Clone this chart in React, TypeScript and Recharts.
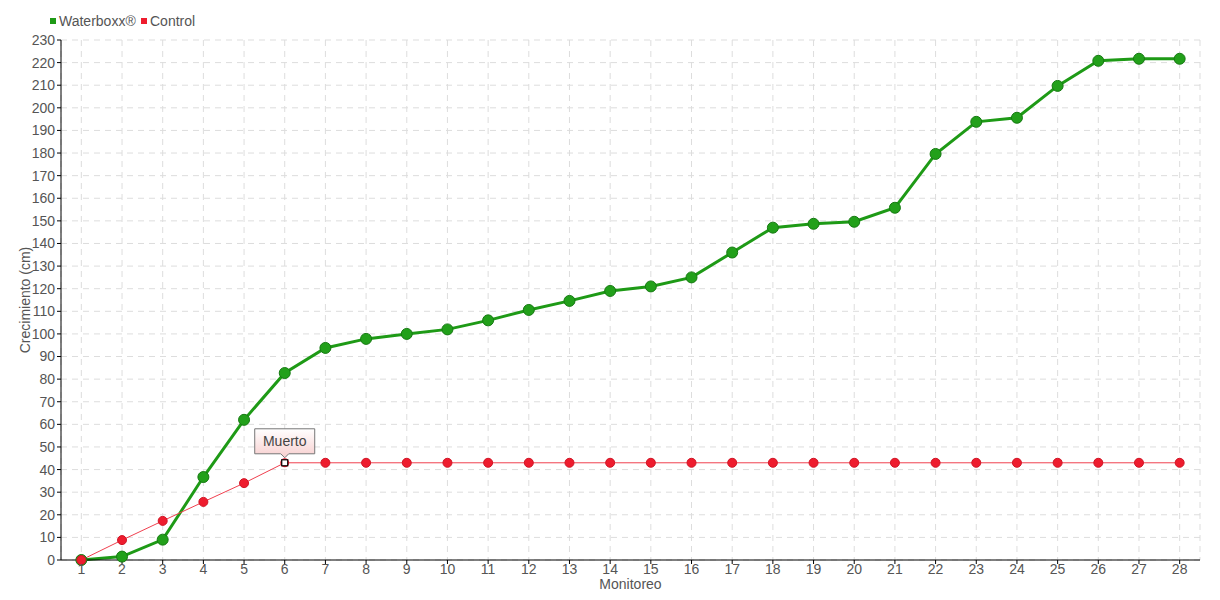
import React from "react";
import {
  LineChart,
  Line,
  XAxis,
  YAxis,
  CartesianGrid,
  Customized,
} from "recharts";

const monitoreos = [
  "1", "2", "3", "4", "5", "6", "7", "8", "9", "10", "11", "12", "13", "14",
  "15", "16", "17", "18", "19", "20", "21", "22", "23", "24", "25", "26", "27", "28",
];

const waterboxx = [
  0, 1.5, 9, 36.7, 62, 82.7, 93.8, 97.8, 100, 102, 106, 110.6, 114.6, 119,
  121, 125, 136, 147, 148.7, 149.6, 155.8, 179.6, 193.8, 195.6, 209.7, 220.8, 221.7, 221.7,
];

const control = [
  0, 8.8, 17.3, 25.7, 34, 43, 43, 43, 43, 43, 43, 43, 43, 43,
  43, 43, 43, 43, 43, 43, 43, 43, 43, 43, 43, 43, 43, 43,
];

const yTicks = [
  0, 10, 20, 30, 40, 50, 60, 70, 80, 90, 100, 110, 120, 130, 140, 150, 160,
  170, 180, 190, 200, 210, 220, 230,
];

// index of the control point marked as dead
const muertoIndex = 5;

const FONT = "'Liberation Sans', Arial, sans-serif";
const TEXT = "#555555";
const GREEN = "#1e9a16";
const RED = "#ee1c2e";

const data = monitoreos.map((m, i) => ({
  name: m,
  waterboxx: waterboxx[i],
  control: control[i],
}));

function ControlDot(props: any) {
  const { cx, cy, index } = props;
  if (cx == null || cy == null) return null;
  if (index !== muertoIndex) {
    return <circle key={index} cx={cx} cy={cy} r={4.5} fill={RED} stroke="#d01525" strokeWidth={1} />;
  }
  const bw = 60;
  const bh = 25;
  const bx = cx - bw / 2;
  const by = cy - 34;
  return (
    <g key={index}>
      <defs>
        <linearGradient id="muertoGrad" x1="0" y1="0" x2="0" y2="1">
          <stop offset="0%" stopColor="#ffffff" />
          <stop offset="100%" stopColor="#f8cfcf" />
        </linearGradient>
      </defs>
      <circle cx={cx} cy={cy} r={4.5} fill={RED} />
      <rect x={cx - 3} y={cy - 3} width={6} height={6} fill="#ffffff" stroke="#000000" strokeWidth={1.2} />
      <path
        d={`M${bx},${by} H${bx + bw} V${by + bh} H${cx + 4} L${cx},${by + bh + 4} L${cx - 4},${by + bh} H${bx} Z`}
        fill="url(#muertoGrad)"
        stroke="#777777"
        strokeWidth={1}
      />
      <text
        x={cx}
        y={by + 17}
        textAnchor="middle"
        fontFamily={FONT}
        fontSize={14}
        fill="#444444"
      >
        Muerto
      </text>
    </g>
  );
}

function WaterDot(props: any) {
  const { cx, cy, index } = props;
  if (cx == null || cy == null) return null;
  return <circle key={index} cx={cx} cy={cy} r={5.5} fill="#22a01a" stroke="#167a12" strokeWidth={1} />;
}

function Legend() {
  return (
    <g fontFamily={FONT} fontSize={14} fill={TEXT}>
      <rect x={50} y={18} width={6} height={6} fill={GREEN} />
      <text x={59} y={26}>Waterboxx®</text>
      <rect x={141} y={18} width={6} height={6} fill={RED} />
      <text x={150} y={26}>Control</text>
    </g>
  );
}

export default function App() {
  return (
    <div style={{ position: "absolute", left: 0, top: 0, background: "#ffffff" }}>
      <LineChart
        width={1220}
        height={600}
        data={data}
        margin={{ top: 40, right: 20, bottom: 20, left: 21 }}
      >
        <CartesianGrid stroke="#dddddd" strokeDasharray="6 5" />
        <XAxis
          dataKey="name"
          scale="band"
          interval={0}
          height={20}
          stroke="#000000"
          tickSize={4}
          tickMargin={0}
          tick={{ fontFamily: FONT, fontSize: 14, fill: TEXT }}
          label={{
            value: "Monitoreo",
            position: "insideBottom",
            offset: -9,
            style: { fontFamily: FONT, fontSize: 14, fill: TEXT },
          }}
        />
        <YAxis
          domain={[0, 230]}
          ticks={yTicks}
          interval={0}
          width={40}
          stroke="#000000"
          tickSize={4}
          tick={{ fontFamily: FONT, fontSize: 14, fill: TEXT }}
          label={{
            value: "Crecimiento (cm)",
            angle: -90,
            position: "insideLeft",
            offset: 4,
            style: { fontFamily: FONT, fontSize: 14, fill: TEXT, textAnchor: "middle" },
          }}
        />
        <Line
          dataKey="waterboxx"
          stroke={GREEN}
          strokeWidth={3}
          dot={<WaterDot />}
          activeDot={false}
          isAnimationActive={false}
        />
        <Line
          dataKey="control"
          stroke="#f0404f"
          strokeWidth={1}
          dot={<ControlDot />}
          activeDot={false}
          isAnimationActive={false}
        />
        <Customized component={<Legend />} />
      </LineChart>
    </div>
  );
}
